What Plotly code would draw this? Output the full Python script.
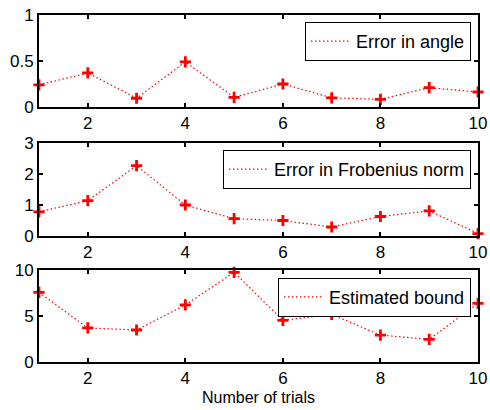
import plotly.graph_objects as go
from plotly.subplots import make_subplots

trials = [1, 2, 3, 4, 5, 6, 7, 8, 9, 10]
err_angle = [0.24, 0.37, 0.095, 0.49, 0.105, 0.25, 0.10, 0.083, 0.21, 0.163]
err_frob = [0.78, 1.14, 2.27, 1.0, 0.56, 0.50, 0.29, 0.63, 0.81, 0.08]
est_bound = [7.57, 3.70, 3.48, 6.20, 9.75, 4.53, 5.18, 2.93, 2.46, 6.38]

names = ["Error in angle", "Error in Frobenius norm", "Estimated bound"]
series = [err_angle, err_frob, est_bound]
y_ranges = [[0, 1], [0, 3], [0, 10]]
y_ticks = [[0, 0.5, 1], [0, 1, 2, 3], [0, 5, 10]]
y_ticktext = [["0", "0.5", "1"], ["0", "1", "2", "3"], ["0", "5", "10"]]
x_ticks = [2, 4, 6, 8, 10]

FONT = "Liberation Sans, Arial, Helvetica, sans-serif"
RED = "#ff0000"

fig = make_subplots(rows=3, cols=1, vertical_spacing=0.1)

domains = [[0.7349, 1.0], [0.3631, 0.6311], [0.0, 0.2651]]
legend_tops = [0.980, 0.611, 0.243]
legend_keys = ["legend", "legend2", "legend3"]

for i in range(3):
    fig.add_trace(go.Scatter(
        x=trials, y=series[i], mode="lines", name=names[i],
        line=dict(color=RED, width=1.2, dash="1.5px,2.5px"),
        legend=legend_keys[i], showlegend=True, cliponaxis=False,
    ), row=i + 1, col=1)
    fig.add_trace(go.Scatter(
        x=trials, y=series[i], mode="markers", showlegend=False,
        marker=dict(symbol="cross-thin", size=8, color=RED,
                    line=dict(color=RED, width=2.8)),
        cliponaxis=False,
    ), row=i + 1, col=1)

axis_common = dict(
    showline=True, linecolor="black", linewidth=2, mirror="ticks",
    ticks="inside", ticklen=4, tickwidth=2, tickcolor="black",
    showgrid=False, zeroline=False, automargin=False,
    tickfont=dict(family=FONT, size=17, color="black"),
)

for i in range(3):
    xa = "xaxis" if i == 0 else f"xaxis{i+1}"
    ya = "yaxis" if i == 0 else f"yaxis{i+1}"
    fig.layout[xa].update(range=[1, 10], tickvals=x_ticks, **axis_common)
    fig.layout[ya].update(range=y_ranges[i], tickvals=y_ticks[i],
                          ticktext=y_ticktext[i], domain=domains[i],
                          **axis_common)

fig.layout["xaxis3"].update(title=dict(text="Number of trials",
                                       font=dict(family=FONT, size=16, color="black"),
                                       standoff=4))

leg_common = dict(
    xanchor="right", yanchor="top", x=0.984,
    bgcolor="white", bordercolor="black", borderwidth=1,
    font=dict(family=FONT, size=18, color="black"),
    tracegroupgap=0, itemwidth=40,
)
fig.update_layout(
    legend=dict(y=legend_tops[0], **leg_common),
    legend2=dict(y=legend_tops[1], **leg_common),
    legend3=dict(y=legend_tops[2], **leg_common),
)

fig.update_layout(
    template="none",
    width=490, height=410,
    margin=dict(l=39, r=12, t=15, b=48),
    paper_bgcolor="white", plot_bgcolor="white",
    font=dict(family=FONT, size=17, color="black"),
)

fig.write_html("out.html")
